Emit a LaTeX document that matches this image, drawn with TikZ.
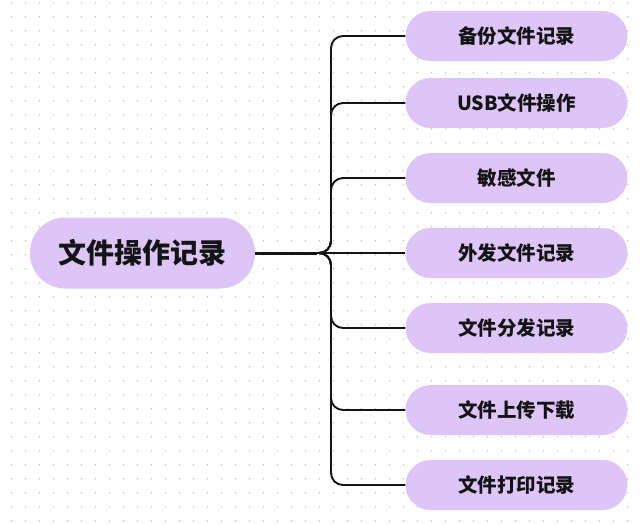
\documentclass[tikz,border=0pt]{standalone}
\usepackage{fontspec}
\setmainfont{Noto Sans CJK SC}
\definecolor{lavender}{RGB}{222,197,247}
\definecolor{ink}{RGB}{20,20,20}
\definecolor{dotc}{RGB}{200,200,200}
\tikzset{
    leaf/.style={fill=lavender, rounded corners=25pt, minimum width=222pt, minimum height=50pt,
        text=ink, font=\fontsize{19.5}{22}\selectfont\bfseries},
    rootbox/.style={fill=lavender, rounded corners=35pt, minimum width=225pt, minimum height=71pt,
        text=ink, font=\fontsize{28}{32}\selectfont\bfseries},
    branch/.style={draw=ink, line width=1.9pt, rounded corners=12pt},
}
\begin{document}
\begin{tikzpicture}[x=1pt,y=-1pt]
    \fill[white] (0,0) rectangle (640,523);
    \useasboundingbox (0,0) rectangle (640,523);
    % dotted paper
    \foreach \i in {0,...,45}
        \foreach \j in {0,...,37}
            \fill[dotc] (11.5+14*\i,2.7+14*\j) circle (0.9pt);
    \node[rootbox] (root) at (142.5,253) {文件操作记录};
    \foreach \y/\txt [count=\i] in {36/备份文件记录, 103/USB文件操作, 178/敏感文件, 253/外发文件记录,
                                    328/文件分发记录, 410/文件上传下载, 485/文件打印记录}
        \node[leaf] (c\i) at (516.5,\y) {\txt};
    \coordinate (hub) at (317,253);
    \coordinate (trunk) at (331,253);
    \draw[ink, line width=3pt] (root.east) -- (hub);
    \foreach \i in {1,2,3,5,6,7}
        \draw[branch] (hub) -- (trunk) |- (c\i.west);
    \draw[branch] (hub) -- (c4.west);
\end{tikzpicture}
\end{document}
